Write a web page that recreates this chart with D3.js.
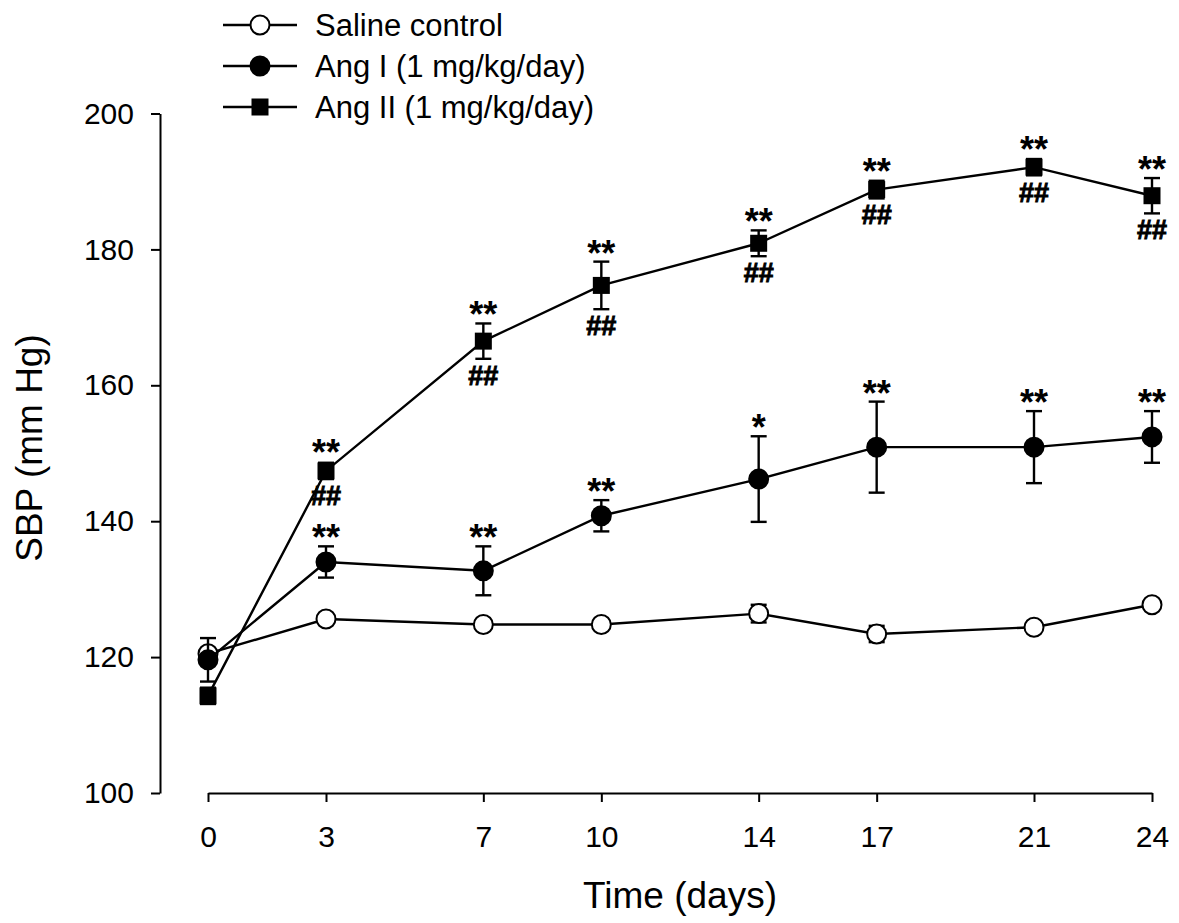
<html>
<head>
<script src="https://d3js.org/d3.v7.min.js"></script>
<style>
body { margin: 0; background: #fff; }
text { font-family: "Liberation Sans", Arial, sans-serif; fill: #000; }
</style>
</head>
<body>
<svg id="chart" width="1179" height="923"></svg>
<script>
// SBP over time, three groups (mean and SEM)
const days = [0, 3, 7, 10, 14, 17, 21, 24];
const salineMean = [120.5, 125.6, 124.8, 124.8, 126.4, 123.4, 124.4, 127.7];
const salineErr  = [0.5, 0.5, 0.5, 0.4, 1.3, 1.2, 0.4, 0.5];
const angIMean   = [119.6, 134.0, 132.7, 140.8, 146.2, 150.9, 150.9, 152.4];
const angIErr    = [3.2, 2.3, 3.6, 2.3, 6.3, 6.7, 5.3, 3.8];
const angIIMean  = [114.3, 147.4, 166.5, 174.7, 180.9, 188.8, 192.1, 187.9];
const angIIErr   = [1.2, 1.2, 2.6, 3.5, 1.9, 1.3, 1.2, 2.6];
const angIStars  = ["", "**", "**", "**", "*", "**", "**", "**"];
const angIIStars = ["", "**", "**", "**", "**", "**", "**", "**"];
const angIIHash  = ["", "##", "##", "##", "##", "##", "##", "##"];
const yTicks = [100, 120, 140, 160, 180, 200];
const legendLabels = ["Saline control", "Ang I (1 mg/kg/day)", "Ang II (1 mg/kg/day)"];

var svg = d3.select("#chart");

var x = d3.scaleLinear().domain([0, 24]).range([208, 1152]);
var y = d3.scaleLinear().domain([100, 200]).range([793, 113.5]);

// axes
var yAxis = svg.append("g").attr("transform", "translate(160,0)")
	.call(d3.axisLeft(y).tickValues(yTicks).tickSize(9).tickPadding(17).tickSizeOuter(0));
var xAxis = svg.append("g").attr("transform", "translate(0,793)")
	.call(d3.axisBottom(x).tickValues(days).tickSize(9).tickPadding(24).tickSizeOuter(0));
[yAxis, xAxis].forEach(function(a) {
	a.select(".domain").attr("stroke", "#000").attr("stroke-width", 2);
	a.selectAll(".tick line").attr("stroke", "#000").attr("stroke-width", 2);
	a.selectAll(".tick text").style("font-size", "30px").attr("fill", "#000");
});

svg.append("text").attr("x", 680).attr("y", 908).attr("text-anchor", "middle")
	.style("font-size", "37px").text("Time (days)");
svg.append("text").attr("transform", "translate(42,448) rotate(-90)").attr("text-anchor", "middle")
	.style("font-size", "37px").text("SBP (mm Hg)");

var series = [
	{ mean: salineMean, err: salineErr, shape: "circle", fill: "#fff" },
	{ mean: angIMean, err: angIErr, shape: "circle", fill: "#000" },
	{ mean: angIIMean, err: angIIErr, shape: "square", fill: "#000" }
];

var line = d3.line().x(function(d) { return x(d.day); }).y(function(d) { return y(d.v); });

function drawMarker(g, shape, fill, cx, cy) {
	if (shape == "circle") {
		g.append("circle").attr("cx", cx).attr("cy", cy).attr("r", 9.5)
			.attr("fill", fill).attr("stroke", "#000").attr("stroke-width", 2);
	} else {
		g.append("rect").attr("x", cx - 8.5).attr("y", cy - 8.5).attr("width", 17).attr("height", 17)
			.attr("fill", fill).attr("stroke", "none");
	}
}

series.forEach(function(s) {
	var pts = days.map(function(d, i) { return { day: d, v: s.mean[i], e: s.err[i] }; });
	var g = svg.append("g");
	g.append("path").datum(pts).attr("d", line).attr("fill", "none").attr("stroke", "#000").attr("stroke-width", 2.4);
	pts.forEach(function(p) {
		var cx = x(p.day), top = y(p.v + p.e), bot = y(p.v - p.e);
		g.append("line").attr("x1", cx).attr("x2", cx).attr("y1", top).attr("y2", bot).attr("stroke", "#000").attr("stroke-width", 2.4);
		g.append("line").attr("x1", cx - 8).attr("x2", cx + 8).attr("y1", top).attr("y2", top).attr("stroke", "#000").attr("stroke-width", 2.4);
		g.append("line").attr("x1", cx - 8).attr("x2", cx + 8).attr("y1", bot).attr("y2", bot).attr("stroke", "#000").attr("stroke-width", 2.4);
	});
	pts.forEach(function(p) { drawMarker(g, s.shape, s.fill, x(p.day), y(p.v)); });
});

// significance marks
function stars(mean, err, labels) {
	days.forEach(function(d, i) {
		if (!labels[i]) return;
		var top = Math.min(y(mean[i] + err[i]), y(mean[i]) - 9.5);
		svg.append("text").attr("x", x(d)).attr("y", top + 4).attr("text-anchor", "middle")
			.style("font-size", "36px").style("font-weight", "bold").text(labels[i]);
	});
}
stars(angIMean, angIErr, angIStars);
stars(angIIMean, angIIErr, angIIStars);

days.forEach(function(d, i) {
	if (!angIIHash[i]) return;
	var bot = Math.max(y(angIIMean[i] - angIIErr[i]), y(angIIMean[i]) + 8.5);
	svg.append("text").attr("x", x(d)).attr("y", bot + 26).attr("text-anchor", "middle")
		.style("font-size", "27px").style("font-weight", "bold")
		.attr("stroke", "#000").attr("stroke-width", 0.9).text(angIIHash[i]);
});

// legend
var legend = svg.append("g");
legendLabels.forEach(function(lab, i) {
	var ly = 25 + i * 41;
	legend.append("line").attr("x1", 223).attr("x2", 297).attr("y1", ly).attr("y2", ly).attr("stroke", "#000").attr("stroke-width", 2.4);
	drawMarker(legend, series[i].shape, series[i].fill, 260, ly);
	legend.append("text").attr("x", 315).attr("y", ly + 11).style("font-size", "31px").text(lab);
});
</script>
</body>
</html>
